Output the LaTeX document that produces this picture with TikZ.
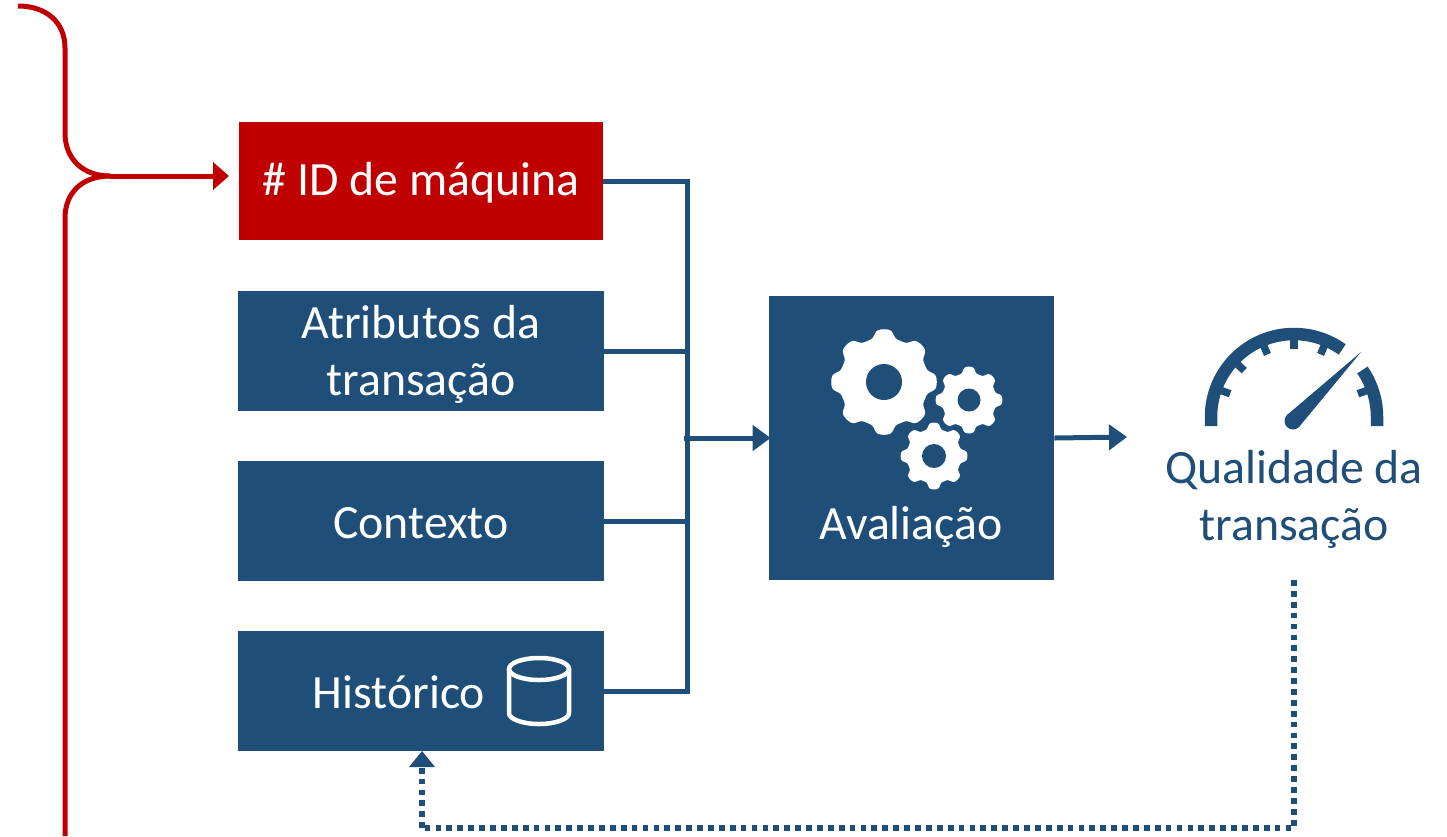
\documentclass[tikz,border=0pt]{standalone}
\usepackage{fontspec}
\setmainfont{Carlito}
\usepackage{xcolor}
\usetikzlibrary{arrows.meta}
\definecolor{boxblue}{HTML}{1F4E79}
\definecolor{boxred}{HTML}{C00000}
\tikzset{
  box/.style={fill=boxblue,inner sep=0pt,minimum width=7.32cm,minimum height=2.4cm},
  tag/.style={inner sep=0pt,align=center,font=\labelfont},
  bus/.style={draw=boxblue,line width=.1cm},
  busarrow/.style={bus,-{Triangle[length=.36cm,width=.5cm]}},
  redline/.style={draw=boxred,line width=.1cm},
  feedback/.style={draw=boxblue,line width=.11cm,dash pattern=on .115cm off .103cm}
}
\newcommand{\labelfont}{\fontsize{27.2}{32.4}\selectfont}
\newcommand{\drawgear}[5]{%
  \fill[white,shift={(#1,#2)}] plot[domain=0:360,samples=241] (\x:{(#3+#4)/2+(#3-#4)/2*tanh(1.8*cos(8*\x))}) -- cycle;
  \fill[boxblue] (#1,#2) circle (#5);
}
\begin{document}
\begin{tikzpicture}[x=.02cm,y=-.02cm]
    \useasboundingbox (0,0) rectangle (1447,836);
    % input boxes
    \node[box,fill=boxred,minimum width=7.28cm,minimum height=2.36cm] (mach) at (421,181) {};
    \node[tag,text=white] (machlabel) at (421,183) {\# ID de máquina};
    \node[box] (attrib) at (421,351) {};
    \node[tag,text=white] (attriblabel) at (421,354) {Atributos da\\transação};
    \node[box] (context) at (421,521) {};
    \node[tag,text=white] (contextlabel) at (421,523) {Contexto};
    \node[box] (hist) at (421,691) {};
    \node[tag,text=white] (histlabel) at (399,692) {Histórico};
    % database icon
    \draw[white,line width=.09cm] (509,669) -- (509,713) arc (180:0:30 and 11) -- (569,669);
    \draw[white,line width=.09cm] (539,669) ellipse (30 and 11);
    % evaluation box
    \node[box,minimum width=5.7cm,minimum height=5.68cm] (eval) at (911.5,438) {};
    \node[tag,text=white] (evallabel) at (911,527) {Avaliação};
    \drawgear{884}{382}{53}{44}{18}
    \drawgear{969}{400}{33.5}{27}{11.5}
    \drawgear{934}{456}{33.5}{27}{12}
    % gauge
    \begin{scope}[shift={(1294,417)},x=.02cm,y=.02cm]
      \draw[boxblue,line width=.25cm] (-83,-9) -- (180:83) arc (180:54.5:83);
      \draw[boxblue,line width=.25cm] (34.5:83) arc (34.5:0:83) -- (83,-9);
      \foreach \ang in {20,67,90,113,137,160}
        \draw[boxblue,line width=.15cm] (\ang:80) -- (\ang:68);
      \fill[boxblue] (-1,-4) circle (8.5);
      \fill[boxblue] (-7,2) -- (67,65) -- (5,-10) -- cycle;
    \end{scope}
    \node[tag,text=boxblue] (quality) at (1294,499) {Qualidade da\\transação};
    % connectors
    \coordinate (junction) at (687,438);
    \draw[bus] (mach.east) -| (junction);
    \draw[bus] (hist.east) -| (junction);
    \draw[bus] (attrib.east) -- (attrib.east -| junction);
    \draw[bus] (context.east) -- (context.east -| junction);
    \draw[busarrow,shorten >=-.04cm] (junction) ++(-3,0) -- (eval.west);
    \coordinate (gaugein) at (1127,437);
    \draw[busarrow] (eval.east) -- (gaugein);
    \coordinate (fbstart) at (1294,580);
    \coordinate (fbbottom) at (422,828);
    \draw[feedback] (fbstart) |- (fbbottom);
    \draw[feedback] (fbbottom) -- (422,768);
    \fill[boxblue] (422,751) -- (435,767) -- (409,767) -- cycle;
    % red bracket
    \coordinate (redtop) at (18,6);
    \coordinate (redbottom) at (65,836);
    \coordinate (redmid) at (110,176);
    \coordinate (redin) at (229,176);
    \draw[redline] (redtop) .. controls (46,6) and (65,22) .. (65,48) -- (65,133) .. controls (65,158) and (82,176) .. (redmid);
    \draw[redline] (redbottom) -- (65,218) .. controls (65,193) and (82,176) .. (redmid);
    \draw[redline,-{Triangle[length=.32cm,width=.54cm]}] (redmid) -- (redin);
\end{tikzpicture}
\end{document}
